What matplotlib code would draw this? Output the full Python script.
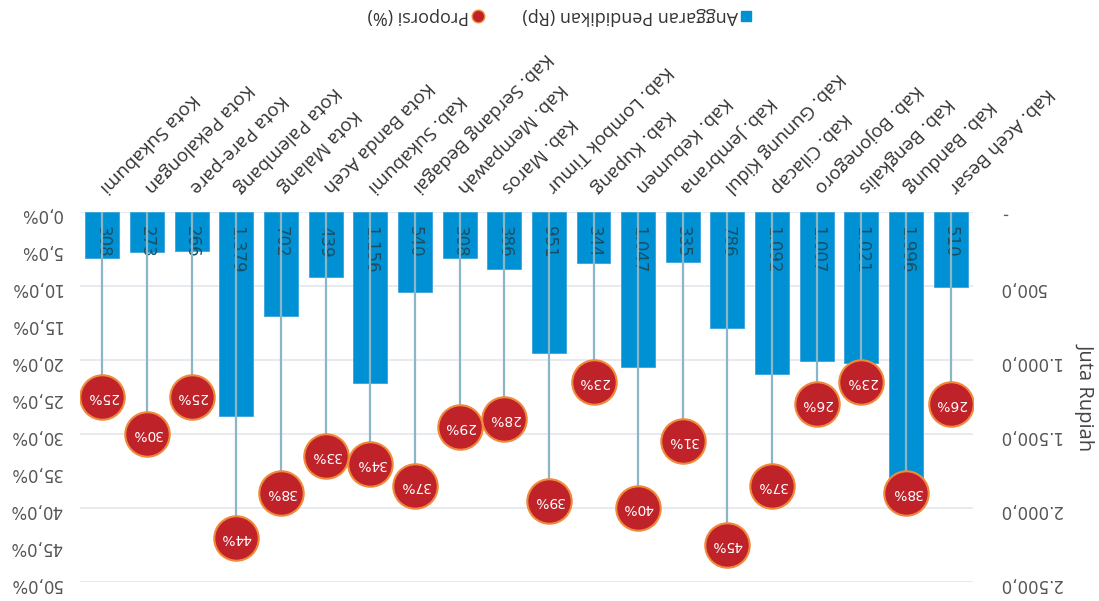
import numpy as np
import matplotlib
matplotlib.use("Agg")
import matplotlib.pyplot as plt
import matplotlib.lines as mlines

plt.rcParams['font.family'] = ['Open Sans', 'DejaVu Sans']
num_font = 'DejaVu Sans'

# data (original order, left to right before the picture was flipped)
daerah = ['Kab. Aceh Besar', 'Kab. Bandung', 'Kab. Bengkalis', 'Kab. Bojonegoro',
          'Kab. Cilacap', 'Kab. Gunung Kidul', 'Kab. Jembrana', 'Kab. Kebumen',
          'Kab. Kupang', 'Kab. Lombok Timur', 'Kab. Maros', 'Kab. Mempawah',
          'Kab. Serdang Bedagai', 'Kab. Sukabumi', 'Kota Banda Aceh', 'Kota Malang',
          'Kota Palembang', 'Kota Pare-pare', 'Kota Pekalongan', 'Kota Sukabumi']
anggaran = [510, 1996, 1021, 1007, 1092, 786, 335, 1047, 344, 951,
            386, 308, 540, 1156, 439, 702, 1379, 266, 273, 308]
proporsi = [26, 38, 23, 26, 37, 45, 31, 40, 23, 39,
            28, 29, 37, 34, 33, 38, 44, 25, 30, 25]

rp_ticks = [0, 500, 1000, 1500, 2000, 2500]
rp_labels = ['- ', '500,0', '1.000,0', '1.500,0', '2.000,0', '2.500,0']
pct_ticks = [0, 5, 10, 15, 20, 25, 30, 35, 40, 45, 50]
pct_labels = ['0,0%', '5,0%', '10,0%', '15,0%', '20,0%', '25,0%',
              '30,0%', '35,0%', '40,0%', '45,0%', '50,0%']

blue = '#0090d4'
red = '#c0222a'
orange = '#f08a3a'
stem = '#8ab6c8'

fig = plt.figure(figsize=(10.99, 6.01), dpi=100)
ax = fig.add_axes([0.0728, 0.0316, 0.8126, 0.6157])
ax2 = ax.twinx()

x = np.arange(len(daerah))
ax.bar(x, anggaran, width=0.76, color=blue, edgecolor='#3aa3dc', linewidth=0.6, zorder=2)
ax.set_ylim(2500, 0)
ax.set_xlim(len(daerah) - 0.5, -0.5)
ax.set_yticks(rp_ticks)
ax.set_yticklabels(rp_labels, rotation=180, fontsize=12, color='#555555', family=num_font)
ax.yaxis.tick_right()
ax.yaxis.set_label_position('right')
ax.set_ylabel('Juta Rupiah', rotation=270, fontsize=14.5, color='#444444', labelpad=25)
ax.grid(axis='y', color='#e3e8ee', lw=1.2)
ax.set_axisbelow(True)
ax.tick_params(axis='y', length=0, pad=18)
ax.get_yticklabels()[0].set_color('#2a6d85')

ax.xaxis.tick_top()
ax.set_xticks(x)
ax.set_xticklabels(daerah, rotation=225, ha='right', va='center',
                   rotation_mode='anchor', fontsize=13.5, color='#333333')
ax.tick_params(axis='x', length=0, pad=16)

for i, v in enumerate(anggaran):
    lab = f'{v:,}'.replace(',', '.')
    ax.annotate(lab, xy=(i, 0), xytext=(0, -10), textcoords='offset points',
                rotation=270, ha='left', va='center', rotation_mode='anchor',
                fontsize=12, color='#184f63', family=num_font, zorder=3)

ax2.set_ylim(50, 0)
ax2.set_yticks(pct_ticks)
ax2.set_yticklabels(pct_labels, rotation=180, fontsize=12, color='#555555', family=num_font)
ax2.yaxis.tick_left()
ax2.tick_params(axis='y', length=0, pad=13)
ax2.vlines(x, 0, proporsi, color=stem, lw=1.6, zorder=2)
ax2.scatter(x, proporsi, s=32 ** 2, color=red, edgecolor=orange, linewidth=1.5, zorder=3)
for i, p in enumerate(proporsi):
    ax2.text(i, p, f'{p}%', rotation=180, ha='center', va='center',
             fontsize=10, color='white', family=num_font, zorder=4)

for a in (ax, ax2):
    for s in a.spines.values():
        s.set_visible(False)

# legend (flipped)
fig.add_artist(mlines.Line2D([746 / 1099], [1 - 16 / 601], marker='s', ms=7,
                             color=blue, ls='none', transform=fig.transFigure))
fig.text(738 / 1099, 1 - 16 / 601, 'Anggaran Pendidikan (Rp)', rotation=180,
         ha='right', va='center', fontsize=13, color='#333333')
fig.add_artist(mlines.Line2D([478 / 1099], [1 - 16 / 601], marker='o', ms=9,
                             color=red, mec=orange, mew=1, ls='none',
                             transform=fig.transFigure))
fig.text(469 / 1099, 1 - 16 / 601, 'Proporsi (%)', rotation=180,
         ha='right', va='center', fontsize=13, color='#333333')

fig.savefig('out.png', dpi=100)
